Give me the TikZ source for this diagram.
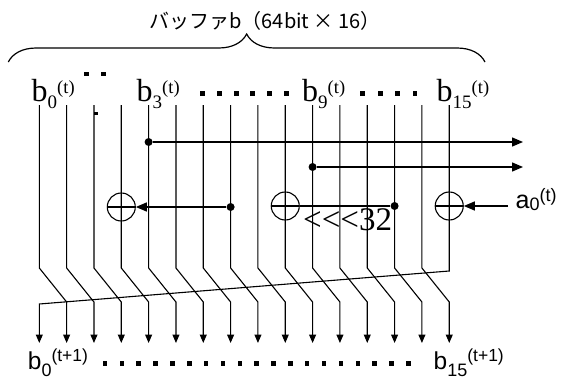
\documentclass[tikz,border=0pt]{standalone}
\usepackage{fontspec}
\setmainfont{Liberation Serif}
\newfontfamily\sansf{Liberation Sans}
\newfontfamily\cjkf{Noto Sans CJK JP}
\usetikzlibrary{arrows.meta,decorations.pathreplacing}

\newcommand{\subtxt}[3]{\raisebox{-#1pt}{\fontsize{#2}{#2}\selectfont #3}}
\newcommand{\suptxt}[3]{\raisebox{#1pt}{\fontsize{#2}{#2}\selectfont #3}}
\newcommand{\bnow}[1]{{\fontsize{32}{32}\selectfont b}\subtxt{6.5}{19}{#1}\suptxt{8.5}{18.5}{(t)}}
\newcommand{\bnext}[1]{{\sansf\fontsize{24.5}{24.5}\selectfont b}\subtxt{7}{18}{\sansf #1}\suptxt{7.5}{17.5}{\sansf (t+1)}}

\begin{document}
\begin{tikzpicture}[x=1pt,y=-1pt,
  wire/.style={line width=1.1pt},
  bus/.style={line width=1.4pt},
  tip/.style={-{Triangle[length=8.5pt,width=7pt]}},
  bigtip/.style={-{Triangle[length=11pt,width=9pt]}},
  sq/.style={fill,inner sep=0pt,minimum size=4.8pt},
  dot/.style={circle,fill,inner sep=0pt,minimum size=8pt},
  xor/.style={circle,draw,line width=1.1pt,inner sep=0pt,minimum size=28pt,
    path picture={\draw [line width=1.1pt] (path picture bounding box.west) -- (path picture bounding box.east);}},
  lbl/.style={anchor=base west,inner sep=0pt}]

\useasboundingbox (0,0) rectangle (566,380);
\def\xa{39.3}
\def\dx{27.33}

% wire end points
\foreach \i in {0,...,15}{
  \coordinate (top\i) at ({\xa+\dx*\i},105);
  \coordinate (end\i) at ({\xa+\dx*\i},343);
}
\coordinate (bendA) at (0,268);
\coordinate (bendB) at (0,302);
\coordinate (slantR) at (0,271);
\coordinate (slantL) at (0,304);

%Straight Lines
\foreach \i [evaluate=\i as \j using {int(\i+1)}] in {0,...,14}
  \draw [wire,tip] (top\i) -- (top\i |- bendA) -- (end\j |- bendB) -- (end\j);
%Straight Lines
\draw [wire,tip] (top15) -- (top15 |- slantR) -- (end0 |- slantL) -- (end0);

% taps and xor
\node [dot] (tap4) at ({\xa+4*\dx},142) {};
\node [dot] (tap10) at ({\xa+10*\dx},167) {};
\coordinate (out1) at (523,142);
\coordinate (out2) at (523,167);
\draw [bus,bigtip] (tap4) -- (out1);
\draw [bus,bigtip] (tap10) -- (out2);

\node [xor] (x3) at ({\xa+3*\dx},207) {};
\node [xor] (x9) at ({\xa+9*\dx},206) {};
\node [xor] (x15) at ({\xa+15*\dx},206) {};
\node [dot] (tap7) at ({\xa+7*\dx},207) {};
\node [dot] (tap13) at ({\xa+13*\dx},206) {};
\coordinate (ain) at (508,206);
\draw [bus,bigtip] (tap7) -- (x3);
\draw [bus] (tap13) -- (x9);
\draw [bus,bigtip] (ain) -- (x15);

% brace
\draw [decorate,decoration={brace,amplitude=28pt},line width=1.2pt] (8.3,62) -- (485,62);

% Text Node
\node (title) at (265,21) {\cjkf\fontsize{20}{20}\selectfont バッファb（64bit × 16）};
% Text Node
\node [lbl] (b0) at (31.5,101.5) {\bnow{0}};
\node [lbl] (b3) at (136.5,101.5) {\bnow{3}};
\node [lbl] (b9) at (302,101.5) {\bnow{9}};
\node [lbl] (b15) at (436.5,101.5) {\bnow{15}};
% Text Node
\node [lbl] (rot) at (303,230) {\fontsize{33}{33}\selectfont <{}<{}<32};
% Text Node
\node [lbl] (a0) at (515.5,208.5) {{\sansf\fontsize{25}{25}\selectfont a}\subtxt{2}{18}{\sansf 0}\suptxt{7.5}{18}{\sansf (t)}};
% Text Node
\node [lbl] (n0) at (27.7,369.3) {\bnext{0}};
\node [lbl] (n15) at (433.5,369.3) {\bnext{15}};

% dotted gaps
\node [sq] (gA1) at (86.7,74) {};
\node [sq] (gA2) at (103.3,74) {};
\foreach \k in {0,...,5}
  \node [sq] (gB\k) at ({202.7+16.7*\k},93.3) {};
\foreach \k in {0,...,3}
  \node [sq] (gC\k) at ({362.7+17.4*\k},93.3) {};
\foreach \k in {0,...,18}
  \node [sq,minimum size=4.5pt] (gD\k) at ({105+16.85*\k},363.3) {};
\node [sq,minimum size=3.6pt] (mk) at (95.8,113.5) {};

\end{tikzpicture}
\end{document}
